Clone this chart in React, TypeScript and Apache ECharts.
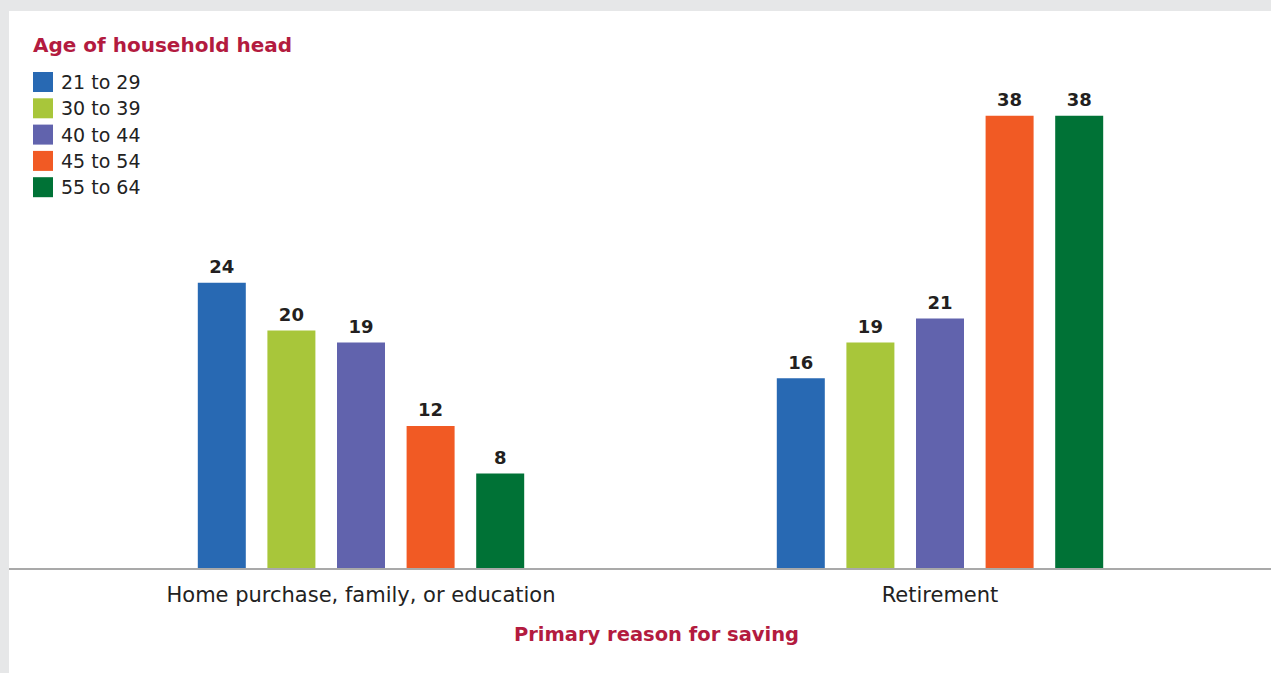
import React, { useEffect, useRef } from "react";
import * as echarts from "echarts";

const categories = ["Home purchase, family, or education", "Retirement"];
const ageGroups = ["21 to 29", "30 to 39", "40 to 44", "45 to 54", "55 to 64"];
const values21to29 = [24, 16];
const values30to39 = [20, 19];
const values40to44 = [19, 21];
const values45to54 = [12, 38];
const values55to64 = [8, 38];
const seriesValues = [values21to29, values30to39, values40to44, values45to54, values55to64];
const colors = ["#2869b3", "#a8c63a", "#6163ad", "#f15a24", "#007236"];

const FONT = "'DejaVu Sans', 'Open Sans', sans-serif";
const CRIMSON = "#b31b3f";

export default function App() {
  const ref = useRef<HTMLDivElement>(null);
  useEffect(() => {
    if (!ref.current) return;
    const chart = echarts.init(ref.current, null, { renderer: "svg" });
    chart.setOption({
      animation: false,
      backgroundColor: "#ffffff",
      textStyle: { fontFamily: FONT },
      title: {
        text: "Age of household head",
        left: 24,
        top: 24,
        padding: 0,
        textStyle: { color: CRIMSON, fontSize: 20, fontWeight: "bold", fontFamily: FONT },
      },
      legend: {
        orient: "vertical",
        left: 24,
        top: 61,
        padding: 0,
        itemWidth: 20,
        itemHeight: 20,
        itemGap: 6.3,
        icon: "rect",
        selectedMode: false,
        data: ageGroups,
        textStyle: { color: "#222222", fontSize: 19, fontFamily: FONT, padding: [0, 0, 0, 3] },
      },
      grid: { left: 62.5, right: 41.5, top: 81, bottom: 104, containLabel: false },
      xAxis: {
        type: "category",
        data: categories,
        axisLine: { show: false },
        axisTick: { show: false },
        axisLabel: { color: "#222222", fontSize: 21, margin: 15, fontFamily: FONT },
        name: "Primary reason for saving",
        nameLocation: "middle",
        nameGap: 55,
        nameTextStyle: {
          color: CRIMSON,
          fontSize: 19.5,
          fontWeight: "bold",
          fontFamily: FONT,
          padding: [0, 0, 0, 12],
        },
      },
      yAxis: {
        type: "value",
        min: 0,
        max: 40,
        show: false,
        splitLine: { show: false },
      },
      series: ageGroups.map((name, i) => ({
        name,
        type: "bar",
        data: seriesValues[i],
        barWidth: 48,
        barGap: "45%",
        itemStyle: { color: colors[i] },
        label: {
          show: true,
          position: "top",
          distance: 7,
          color: "#231f20",
          fontSize: 18,
          fontWeight: "bold",
          fontFamily: FONT,
        },
      })),
      graphic: [
        {
          type: "line",
          shape: { x1: 0, y1: 558, x2: 1262, y2: 558 },
          style: { stroke: "#a9a9a9", lineWidth: 2 },
          z: 10,
        },
      ],
    });
    return () => chart.dispose();
  }, []);
  return (
    <div style={{ position: "fixed", left: 0, top: 0, width: 1271, height: 673, background: "#e6e7e8" }}>
      <div ref={ref} style={{ position: "absolute", left: 9, top: 11, width: 1262, height: 662 }} />
    </div>
  );
}
